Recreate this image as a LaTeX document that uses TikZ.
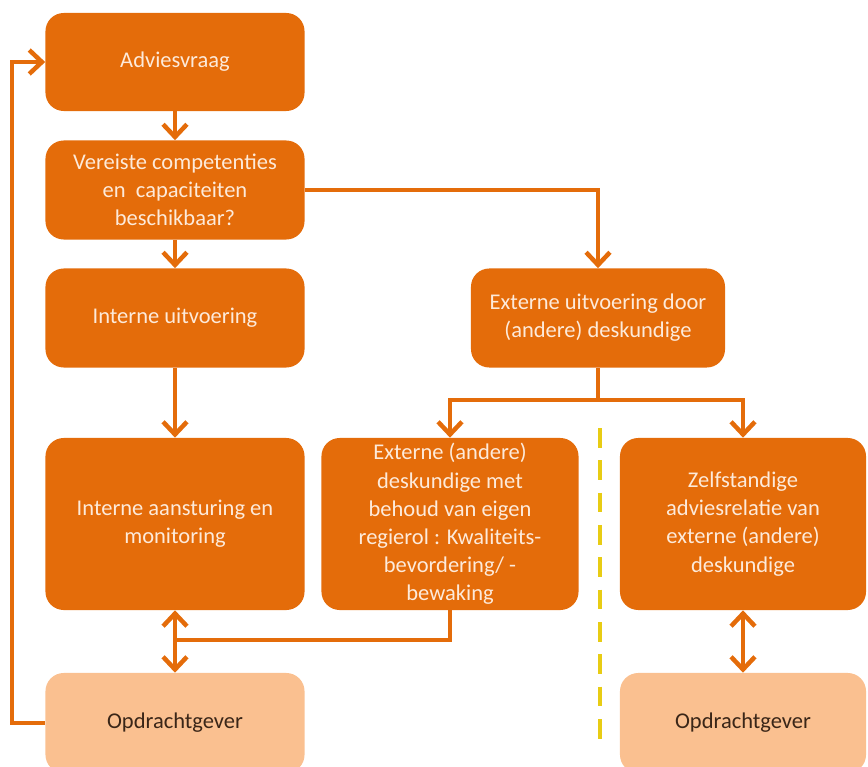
\documentclass[tikz,border=0pt]{standalone}
\usepackage{fontspec}
\setmainfont{Carlito}
\usetikzlibrary{arrows.meta}
\definecolor{boxorange}{HTML}{E46C0A}
\definecolor{paleorange}{HTML}{FAC090}
\definecolor{creamtext}{HTML}{FDEADA}
\definecolor{darktext}{HTML}{3A2618}
\definecolor{sepyellow}{HTML}{E8CC14}

\begin{document}
\begin{tikzpicture}[x=0.025cm,y=-0.025cm,
    box/.style={rounded corners=13pt,fill=boxorange,text=creamtext,
      align=center,inner sep=0pt,font=\fontsize{16}{20}\selectfont},
    clientbox/.style={box,fill=paleorange,text=darktext},
    link/.style={boxorange,line width=3.2pt},
    flow/.style={link,-{Straight Barb[length=9pt,width=17pt]}},
    twoway/.style={link,{Straight Barb[length=9pt,width=17pt]}-{Straight Barb[length=9pt,width=17pt]}}]

    \useasboundingbox (0,0) rectangle (868,767);
    \clip (0,0) rectangle (868,767);

    % Left column
    \node[box,minimum width=6.475cm,minimum height=2.45cm] (ask) at (175,62) {Adviesvraag};
    \node[box,minimum width=6.475cm,minimum height=2.475cm] (check) at (175,190)
      {Vereiste competenties\\en\ \ capaciteiten\\beschikbaar?};
    \node[box,minimum width=6.475cm,minimum height=2.475cm] (intern) at (175,318) {Interne uitvoering};
    \node[box,minimum width=6.475cm,minimum height=4.3cm] (steer) at (175,524)
      {Interne aansturing en\\monitoring};
    \node[clientbox,minimum width=6.475cm,minimum height=2.5cm] (client) at (175,723) {Opdrachtgever};

    % Right part
    \node[box,minimum width=6.35cm,minimum height=2.475cm] (extern) at (598,318)
      {Externe uitvoering door\\(andere) deskundige};
    \node[box,minimum width=6.425cm,minimum height=4.3cm] (expert) at (450,524)
      {Externe (andere)\\deskundige met\\behoud van eigen\\regierol : Kwaliteits-\\bevordering/ -\\bewaking};
    \node[box,minimum width=6.15cm,minimum height=4.3cm] (self) at (743,524)
      {Zelfstandige\\adviesrelatie van\\externe (andere)\\deskundige};
    \node[clientbox,minimum width=6.15cm,minimum height=2.5cm] (client2) at (743,723) {Opdrachtgever};

    \coordinate (split) at (598,400);
    \coordinate (join) at (175,640);

    % Connectors
    \draw[flow] (ask) -- (check);
    \draw[flow] (check) -- (intern);
    \draw[flow] (intern) -- (steer);
    \draw[flow] (check.east) -| (extern.north);
    \draw[link] (extern.south) -- (split);
    \draw[flow] (split) -| (expert.north);
    \draw[flow] (split) -| (self.north);
    \draw[link] (expert.south) |- (join);
    \draw[twoway] (steer) -- (client);
    \draw[twoway] (self) -- (client2);
    \draw[flow] (client.west) -- ++(-33,0) |- (ask.west);

    % Separator
    \draw[sepyellow,line width=2.2pt,dash pattern=on 14pt off 9pt] (600,428) -- (600,740);

  \end{tikzpicture}
\end{document}
